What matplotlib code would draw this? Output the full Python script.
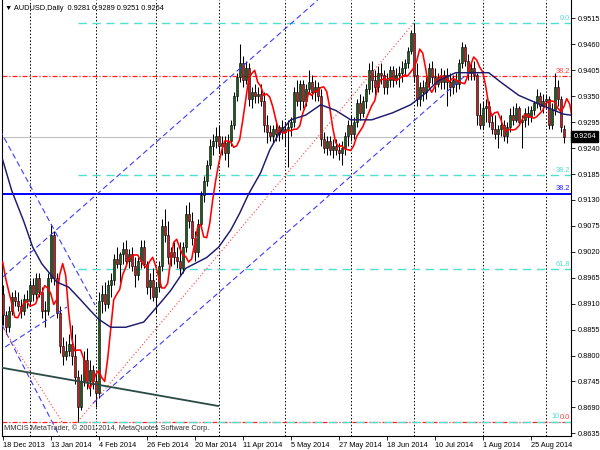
import matplotlib
matplotlib.use("Agg")
import matplotlib.pyplot as plt
import matplotlib.transforms as mtransforms
import numpy as np
import pandas as pd

plt.rcParams['font.family'] = ['Liberation Sans', 'DejaVu Sans']

# AUDUSD daily bars, 18 Dec 2013 .. 9 Sep 2014, prices in 1/10000
opens = [8930, 8885, 8860, 8895, 8925, 8915, 8905, 8895, 8920, 8915,
         8950, 8930, 8965, 8935, 8895, 8895, 8965, 9055, 8965, 8890,
         8820, 8800, 8810, 8825, 8800, 8755, 8690, 8745, 8790, 8745,
         8770, 8745, 8720, 8915, 8930, 8910, 8950, 8960, 9005, 8995,
         9015, 9025, 9000, 9015, 8990, 8970, 9000, 9030, 8995, 8945,
         8960, 8925, 8945, 8990, 9075, 9055, 9010, 9020, 9010, 9000,
         8985, 9030, 9100, 9085, 9050, 9020, 9080, 9140, 9170, 9205,
         9245, 9255, 9265, 9245, 9250, 9230, 9255, 9290, 9350, 9390,
         9420, 9385, 9410, 9345, 9360, 9350, 9355, 9340, 9290, 9275,
         9265, 9280, 9270, 9285, 9275, 9280, 9285, 9295, 9360, 9340,
         9375, 9340, 9365, 9380, 9360, 9370, 9350, 9260, 9240, 9255,
         9235, 9245, 9235, 9230, 9240, 9265, 9290, 9270, 9295, 9335,
         9315, 9340, 9365, 9405, 9385, 9370, 9400, 9395, 9370, 9385,
         9405, 9385, 9395, 9400, 9410, 9420, 9445, 9485, 9395, 9345,
         9370, 9360, 9380, 9410, 9390, 9375, 9390, 9380, 9395, 9380,
         9370, 9385, 9375, 9420, 9455, 9425, 9400, 9410, 9395, 9310,
         9290, 9325, 9330, 9295, 9280, 9270, 9280, 9290, 9265, 9285,
         9310, 9300, 9325, 9295, 9300, 9315, 9305, 9320, 9335, 9350,
         9330, 9340, 9345, 9290, 9320, 9370, 9345, 9281]
highs = [8950, 8895, 8905, 8935, 8940, 8935, 8920, 8930, 8940, 8960,
         8965, 8975, 8975, 8945, 8915, 8975, 9080, 9065, 8975, 8905,
         8840, 8830, 8845, 8865, 8845, 8770, 8760, 8810, 8815, 8790,
         8780, 8760, 8935, 8950, 8955, 8960, 8975, 9015, 9030, 9020,
         9040, 9045, 9025, 9030, 9010, 9010, 9045, 9045, 9000, 8975,
         8985, 8955, 9000, 9090, 9110, 9085, 9030, 9040, 9030, 9040,
         9040, 9120, 9125, 9105, 9065, 9090, 9150, 9180, 9215, 9260,
         9270, 9285, 9290, 9265, 9265, 9270, 9300, 9360, 9400, 9460,
         9435, 9425, 9420, 9370, 9375, 9370, 9375, 9360, 9310, 9290,
         9290, 9300, 9290, 9300, 9295, 9300, 9305, 9370, 9385, 9385,
         9385, 9375, 9405, 9395, 9385, 9380, 9365, 9275, 9265, 9265,
         9260, 9260, 9250, 9255, 9275, 9300, 9310, 9305, 9345, 9355,
         9350, 9375, 9420, 9425, 9405, 9415, 9420, 9405, 9400, 9415,
         9415, 9410, 9415, 9425, 9430, 9455, 9490, 9505, 9420, 9380,
         9385, 9390, 9420, 9425, 9410, 9400, 9410, 9405, 9410, 9400,
         9395, 9400, 9430, 9465, 9460, 9440, 9420, 9425, 9400, 9335,
         9340, 9345, 9340, 9310, 9310, 9290, 9310, 9300, 9295, 9325,
         9330, 9335, 9330, 9310, 9325, 9330, 9330, 9340, 9365, 9360,
         9355, 9355, 9350, 9335, 9400, 9385, 9350, 9289]
lows = [8865, 8845, 8850, 8885, 8905, 8895, 8880, 8885, 8900, 8905,
        8915, 8920, 8925, 8880, 8860, 8885, 8955, 8950, 8880, 8805,
        8780, 8790, 8800, 8780, 8740, 8660, 8685, 8735, 8730, 8715,
        8730, 8690, 8710, 8890, 8895, 8900, 8925, 8950, 8985, 8955,
        8995, 8990, 8985, 8980, 8945, 8960, 8985, 8985, 8930, 8920,
        8915, 8890, 8935, 8980, 9040, 8995, 8990, 8995, 8985, 8970,
        8975, 9020, 9070, 9035, 9000, 9010, 9070, 9125, 9160, 9195,
        9225, 9240, 9230, 9225, 9215, 9200, 9245, 9280, 9340, 9380,
        9370, 9375, 9330, 9325, 9335, 9335, 9330, 9275, 9250, 9255,
        9250, 9255, 9255, 9260, 9245, 9200, 9265, 9285, 9330, 9320,
        9325, 9330, 9355, 9345, 9340, 9340, 9245, 9230, 9225, 9225,
        9220, 9225, 9215, 9205, 9225, 9245, 9255, 9260, 9285, 9300,
        9305, 9325, 9355, 9360, 9350, 9360, 9375, 9355, 9355, 9370,
        9370, 9375, 9370, 9380, 9395, 9410, 9440, 9380, 9330, 9330,
        9340, 9345, 9365, 9375, 9360, 9370, 9365, 9365, 9330, 9350,
        9355, 9360, 9365, 9410, 9415, 9385, 9385, 9385, 9290, 9280,
        9280, 9295, 9285, 9270, 9260, 9240, 9265, 9255, 9250, 9275,
        9290, 9295, 9290, 9240, 9285, 9290, 9295, 9310, 9325, 9320,
        9315, 9325, 9280, 9280, 9310, 9330, 9275, 9251]
closes = [8885, 8860, 8895, 8925, 8915, 8905, 8895, 8920, 8915, 8950,
          8930, 8965, 8935, 8895, 8895, 8965, 9055, 8965, 8890, 8820,
          8800, 8810, 8825, 8800, 8755, 8690, 8745, 8790, 8745, 8770,
          8745, 8720, 8915, 8930, 8910, 8950, 8960, 9005, 8995, 9015,
          9025, 9000, 9015, 8990, 8970, 9000, 9030, 8995, 8945, 8960,
          8925, 8945, 8990, 9075, 9055, 9010, 9020, 9010, 9000, 8985,
          9030, 9100, 9085, 9050, 9020, 9080, 9140, 9170, 9205, 9245,
          9255, 9265, 9245, 9250, 9230, 9255, 9290, 9350, 9390, 9420,
          9385, 9410, 9345, 9360, 9350, 9355, 9340, 9290, 9275, 9265,
          9280, 9270, 9285, 9275, 9280, 9285, 9295, 9360, 9340, 9375,
          9340, 9365, 9380, 9360, 9370, 9350, 9260, 9240, 9255, 9235,
          9245, 9235, 9230, 9240, 9265, 9290, 9270, 9295, 9335, 9315,
          9340, 9365, 9405, 9385, 9370, 9400, 9395, 9370, 9385, 9405,
          9385, 9395, 9400, 9410, 9420, 9445, 9485, 9395, 9345, 9370,
          9360, 9380, 9410, 9390, 9375, 9390, 9380, 9395, 9380, 9370,
          9385, 9375, 9420, 9455, 9425, 9400, 9410, 9395, 9310, 9290,
          9325, 9330, 9295, 9280, 9270, 9280, 9290, 9265, 9285, 9310,
          9300, 9325, 9295, 9300, 9315, 9305, 9320, 9335, 9350, 9330,
          9340, 9345, 9290, 9320, 9370, 9345, 9285, 9264]
# closes of the five sessions before the first bar (feed the fast MA)
prior_closes = [9055, 8980, 8960, 8950, 8900]

# slow moving average (bar, price)
slow_ma_bar = [0, 3, 7, 10, 13, 18, 22, 26, 29, 32, 36, 41, 47, 53, 56, 61,
               68, 72, 76, 79, 82, 86, 89, 92, 96, 101, 106, 111, 116, 123,
               130, 136, 141, 145, 151, 162, 166, 172, 180, 187, 189.4]
slow_ma_val = [0.9215, 0.9150, 0.9085, 0.9030, 0.8995, 0.8956, 0.8945,
               0.8918, 0.8897, 0.8877, 0.8860, 0.8860, 0.8871, 0.8915,
               0.8938, 0.8985, 0.9008, 0.9030, 0.9066, 0.9102, 0.9143,
               0.9188, 0.9236, 0.9270, 0.9300, 0.9310, 0.9332, 0.9320,
               0.9300, 0.9300, 0.9315, 0.9332, 0.9357, 0.9382, 0.9400,
               0.9400, 0.9380, 0.9352, 0.9330, 0.9312, 0.9310]

tick_bars = [0, 16, 32, 48, 64, 80, 96, 112, 128, 144, 160, 176]
tick_labels = ['18 Dec 2013', '13 Jan 2014', '4 Feb 2014', '26 Feb 2014',
               '20 Mar 2014', '11 Apr 2014', '5 May 2014', '27 May 2014',
               '18 Jun 2014', '10 Jul 2014', '1 Aug 2014', '25 Aug 2014']
month_bars = [9, 31, 51, 72, 94, 116, 137, 160, 181]
price_ticks = [0.9515, 0.9460, 0.9405, 0.9350, 0.9295, 0.9240, 0.9185,
               0.9130, 0.9075, 0.9020, 0.8965, 0.8910, 0.8855, 0.8800,
               0.8745, 0.8690, 0.8635]

# drawn objects: (bar, price) end points
blue_dashed = [[(0.1, 0.8967), (105, 0.9554)],
               [(30.1, 0.8699), (155.1, 0.9399)],
               [(0.8, 0.8818), (21.4, 0.8903)],
               [(-0.9, 0.9278), (30.8, 0.8907)],
               [(-0.2, 0.8865), (19.1, 0.8627)]]
red_dotted = [[(0.1, 0.8859), (19.8, 0.8659)],
              [(25, 0.8660), (137, 0.9505)]]
dark_trend = [(-0.2, 0.8774), (71.8, 0.8693)]

fib_low, fib_high, fib_start = 0.8660, 0.9505, 25
cyan_levels = [0.0, 38.2, 61.8, 100.0]
red_levels = [(0.8658, '0.0'), (0.9392, '38.2')]
blue_level = (0.9143, '38.2')
bid = 0.9264

o = np.array(opens) / 1e4
h = np.array(highs) / 1e4
l = np.array(lows) / 1e4
c = np.array(closes) / 1e4
x = np.arange(len(c))

fig = plt.figure(figsize=(6, 4.5), dpi=100)
ax = fig.add_axes([2 / 600, 14 / 450, 569 / 600, 436 / 450])
ax.set_xlim(-0.23, 189.43)
ax.set_ylim(0.86293, 0.95542)

for b in month_bars:
    ax.axvline(b, color='black', lw=0.7, dashes=(1.5, 2), zorder=1)

# horizontal levels
ax.axhline(bid, color='#c0c0c0', lw=0.8, zorder=1)
ax.axhline(blue_level[0], color='#0000ff', lw=1.4, zorder=2)
for p, lab in red_levels:
    ax.axhline(p, color='#ff2020', lw=0.9, dashes=(4, 1.5, 1, 1.5), zorder=2)
for lev in cyan_levels:
    p = fib_high - (fib_high - fib_low) * lev / 100
    ax.plot([fib_start, 189.43], [p, p], color='#50e0d0', lw=1.0,
            dashes=(6, 4), zorder=2)

# candles
up = c >= o
body_lo = np.minimum(o, c)
body_h = np.maximum(np.abs(c - o), 0.00006)
ax.vlines(x, l, h, color='black', lw=0.75, zorder=3)
ax.bar(x, body_h, bottom=body_lo, width=0.66,
       color=np.where(up, '#1a5e1a', '#c81e1e'), edgecolor='black',
       lw=0.4, zorder=4)

# moving averages
fast = pd.Series(prior_closes + closes, dtype=float) / 1e4
fast = fast.rolling(3).mean().to_numpy()[2:]
fast_x = np.arange(len(fast)) - len(prior_closes) + 2 + 3
ax.plot(fast_x, fast, color='#ff0000', lw=1.15, zorder=5)
ax.plot(slow_ma_bar, slow_ma_val, color='#1c1a6e', lw=1.05, zorder=5)

# trend lines / channels
for (b0, p0), (b1, p1) in blue_dashed:
    ax.plot([b0, b1], [p0, p1], color='#3c3cff', lw=0.8, dashes=(5, 3),
            zorder=6)
for (b0, p0), (b1, p1) in red_dotted:
    ax.plot([b0, b1], [p0, p1], color='#ff4040', lw=0.8, dashes=(1, 2),
            zorder=6)
ax.plot([p[0] for p in dark_trend], [p[1] for p in dark_trend],
        color='#2a4a44', lw=1.3, zorder=6)

# level labels
lab_x = 189.1
for lev in cyan_levels:
    p = fib_high - (fib_high - fib_low) * lev / 100
    txt = f'{lev:.1f}'
    shift = 0
    if lev == 100.0:
        # the red "0.0" of the other fibo sits on the last three characters
        txt, shift = '10', -7.4
    ax.annotate(txt, (lab_x, p + 0.0003), xytext=(shift, 0),
                textcoords='offset points', color='#50e0d0', fontsize=5.3,
                ha='right', va='bottom', zorder=7)
for p, lab in red_levels:
    ax.text(lab_x, p + 0.0003, lab, color='#ff4040', fontsize=5.3,
            ha='right', va='bottom', zorder=8)
ax.text(lab_x, blue_level[0] + 0.0003, blue_level[1], color='#2020ff',
        fontsize=5.3, ha='right', va='bottom', zorder=8)

# axes styling
ax.spines['top'].set_visible(False)
for s in ['left', 'right', 'bottom']:
    ax.spines[s].set_linewidth(0.8)
ax.yaxis.tick_right()
ax.set_yticks(price_ticks)
ax.set_yticklabels([f'{p:.4f}' for p in price_ticks])
ax.tick_params(axis='y', labelsize=5.3, length=3, width=0.6, pad=2)
ax.set_xticks(tick_bars)
ax.set_xticklabels(tick_labels, ha='left')
ax.tick_params(axis='x', labelsize=5.3, length=3, width=0.6, pad=1)

tr = mtransforms.blended_transform_factory(ax.transAxes, ax.transData)
ax.text(1.004, bid, f'{bid:.4f}', transform=tr, color='white',
        fontsize=5.3, va='center', ha='left',
        bbox=dict(boxstyle='square,pad=0.25', fc='black', ec='black'))

fig.text(5 / 600, 1 - 8 / 450,
         '\u25bc AUDUSD,Daily  0.9281 0.9289 0.9251 0.9264',
         fontsize=5.3, va='center', ha='left')
fig.text(4 / 600, 1 - 428 / 450,
         'MMCIS MetaTrader, \u00a9 2001-2014, MetaQuotes Software Corp.',
         fontsize=5.3, va='center', ha='left', color='#333333')

fig.savefig('out.png', dpi=100)
